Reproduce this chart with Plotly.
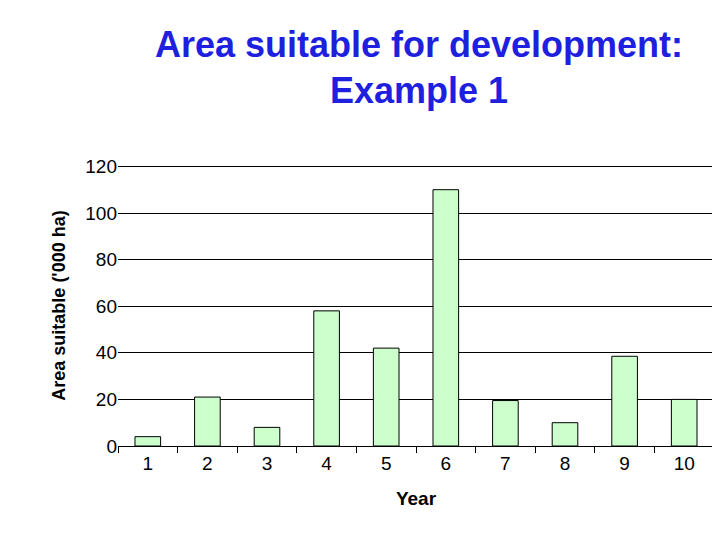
import plotly.graph_objects as go

years = ["1", "2", "3", "4", "5", "6", "7", "8", "9", "10"]
area = [4, 21, 8, 58, 42, 110, 19.5, 10, 38.5, 20]

fig = go.Figure(go.Bar(
    x=years, y=area,
    marker=dict(color="#ccffcc", line=dict(color="black", width=1)),
    width=0.43,
))

fig.update_layout(
    width=720, height=540,
    paper_bgcolor="white", plot_bgcolor="white",
    margin=dict(l=110, r=14, t=157, b=102),
    font=dict(family="Liberation Sans, Arial", color="black", size=19),
    title=dict(text="<b>Area suitable for development:<br>Example 1</b>",
               x=0.505, xanchor="center", xref="paper", yref="container",
               y=0.91, yanchor="top", automargin=False,
               font=dict(size=36, color="#1f1fe0")),
    showlegend=False,
)
fig.update_xaxes(title=dict(text="<b>Year</b>", font=dict(size=19), standoff=18),
                 showline=True, linecolor="black", ticks="outside",
                 tickson="boundaries", ticklen=6, tickcolor="black")
fig.update_yaxes(title=dict(text="<b>Area suitable ('000 ha)</b>", font=dict(size=18), standoff=14),
                 range=[0, 120.6], dtick=20, showgrid=True, gridcolor="black",
                 gridwidth=1, zeroline=False, ticks="", showline=False)

fig.write_html("out.html")
